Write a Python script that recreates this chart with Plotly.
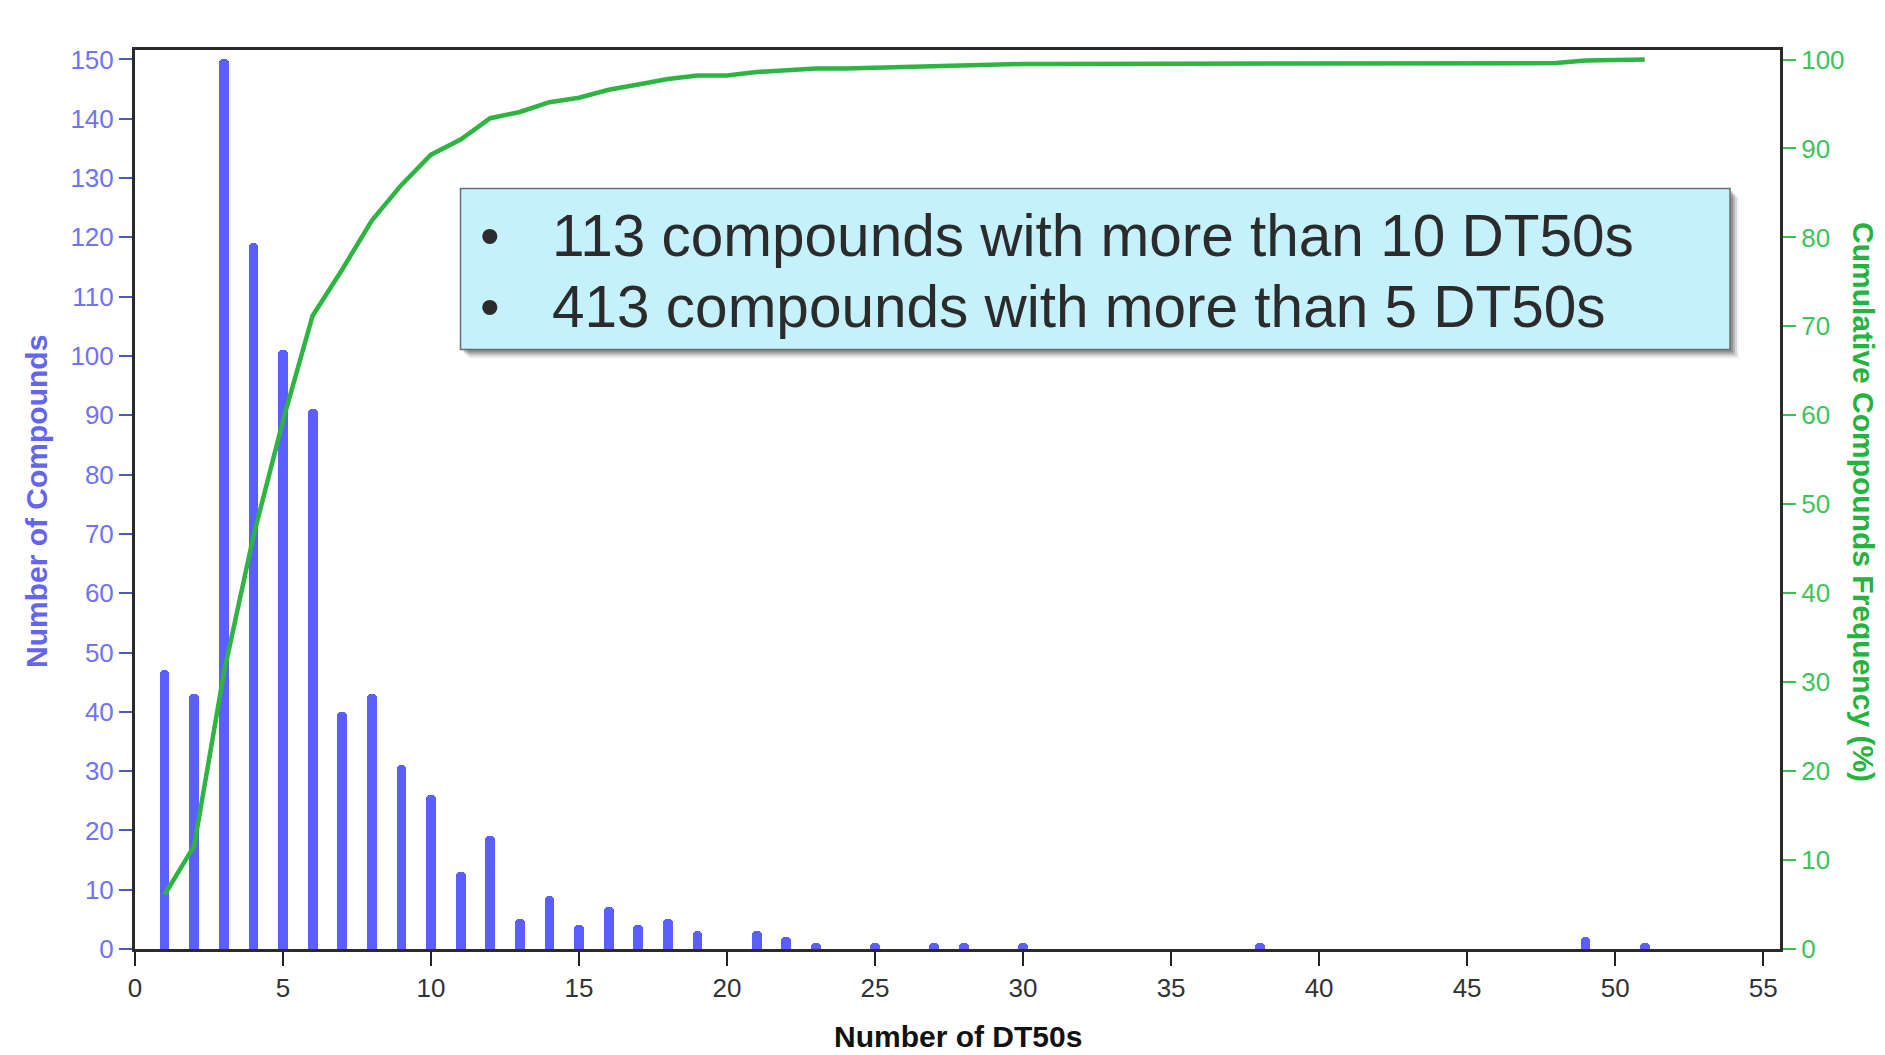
import plotly.graph_objects as go

# ---------------- data ----------------
bar_x = [1, 2, 3, 4, 5, 6, 7, 8, 9, 10, 11, 12, 13, 14, 15, 16, 17, 18, 19,
         21, 22, 23, 25, 27, 28, 30, 38, 49, 51]
bar_counts = [47, 43, 150, 119, 101, 91, 40, 43, 31, 26, 13, 19, 5, 9, 4, 7, 4, 5, 3,
              3, 2, 1, 1, 1, 1, 1, 1, 2, 1]

cum_x = [1, 2, 3, 4, 5, 6, 7, 8, 9, 10, 11, 12, 13, 14, 15, 16, 17, 18, 19, 20,
         21, 22, 23, 24, 25, 26, 27, 28, 29, 30, 31, 32, 33, 34, 35, 36, 37, 38, 39, 40,
         41, 42, 43, 44, 45, 46, 47, 48, 49, 50, 51]
cum_pct = [6.1, 11.6, 31.0, 46.4, 59.4, 71.2, 76.4, 81.9, 85.9, 89.3,
           91.0, 93.4, 94.1, 95.2, 95.7, 96.6, 97.2, 97.8, 98.2, 98.2,
           98.6, 98.8, 99.0, 99.0, 99.1, 99.1, 99.2, 99.4, 99.4, 99.5,
           99.5, 99.5, 99.5, 99.5, 99.5, 99.5, 99.5, 99.6, 99.6, 99.6,
           99.6, 99.6, 99.6, 99.6, 99.6, 99.6, 99.6, 99.6, 99.9, 99.9, 100.0]

x_ticks = [0, 5, 10, 15, 20, 25, 30, 35, 40, 45, 50, 55]
y_left_ticks = [0, 10, 20, 30, 40, 50, 60, 70, 80, 90, 100, 110, 120, 130, 140, 150]
y_right_ticks = [0, 10, 20, 30, 40, 50, 60, 70, 80, 90, 100]

box_lines = ["113 compounds with more than 10 DT50s",
             "413 compounds with more than 5 DT50s"]

# ---------------- layout geometry ----------------
W, H = 1885, 1055
ML, MR, MT, MB = 135, 105, 50, 106
PW = W - ML - MR
PH = H - MT - MB


def px(xp):
    return (xp - ML) / PW


def py(yp):
    return (H - MB - yp) / PH


BAR_COLOR = "#5b5fff"
LINE_COLOR = "#2db441"
FONT = "Liberation Sans, Arial, sans-serif"

fig = go.Figure()
fig.add_trace(go.Bar(x=bar_x, y=bar_counts, width=0.33,
                     marker=dict(color=BAR_COLOR, line=dict(width=0), cornerradius=4),
                     yaxis="y", showlegend=False))
fig.add_trace(go.Scatter(x=cum_x, y=cum_pct, mode="lines",
                         line=dict(color=LINE_COLOR, width=4.5),
                         yaxis="y2", showlegend=False))

fig.update_layout(
    width=W, height=H,
    margin=dict(l=ML, r=MR, t=MT, b=MB),
    paper_bgcolor="white", plot_bgcolor="white",
    font=dict(family=FONT),
    xaxis=dict(range=[0, 55.57], tickvals=x_ticks, ticks="outside", ticklen=14,
               tickwidth=2, tickcolor="#222222", showline=True, linecolor="#2a2a2a",
               linewidth=3, mirror=True, showgrid=False, zeroline=False,
               tickfont=dict(size=26, color="#333333", family=FONT)),
    yaxis=dict(range=[0, 151.6], tickvals=y_left_ticks, ticks="outside", ticklen=13,
               tickwidth=2, tickcolor="#4f5ab8", showline=True, linecolor="#2a2a2a",
               linewidth=3, showgrid=False, zeroline=False,
               tickfont=dict(size=26, color="#7272f2", family=FONT)),
    yaxis2=dict(range=[0, 101.07], tickvals=y_right_ticks, overlaying="y", side="right",
                ticks="outside", ticklen=13, tickwidth=2, tickcolor="#3cbf55",
                showline=True, linecolor="#2a2a2a", linewidth=3, showgrid=False,
                zeroline=False, tickfont=dict(size=26, color="#3cc35a", family=FONT)),
    bargap=0,
)

# axis titles as annotations
fig.add_annotation(text="<b>Number of DT50s</b>", xref="paper", yref="paper",
                   x=0.5, y=py(1036), xanchor="center", yanchor="middle",
                   showarrow=False, font=dict(size=30, color="#111111", family=FONT))
fig.add_annotation(text="<b>Number of Compounds</b>", xref="paper", yref="paper",
                   x=px(36), y=py(502), xanchor="center", yanchor="middle",
                   textangle=-90, showarrow=False,
                   font=dict(size=30, color="#6464f2", family=FONT))
fig.add_annotation(text="<b>Cumulative Compounds Frequency (%)</b>", xref="paper", yref="paper",
                   x=px(1864), y=py(502), xanchor="center", yanchor="middle",
                   textangle=90, showarrow=False,
                   font=dict(size=30, color="#25b33f", family=FONT))

# text box with shadow
bx0, bx1, by0, by1 = 460.5, 1730, 188.5, 349.5
for off, alpha in [(9, 0.06), (7, 0.1), (5, 0.16), (3, 0.2)]:
    fig.add_shape(type="rect", xref="paper", yref="paper",
                  x0=px(bx0 + off), x1=px(bx1 + off), y0=py(by0 + off), y1=py(by1 + off),
                  fillcolor=f"rgba(0,0,0,{alpha})", line=dict(width=0), layer="above")
fig.add_shape(type="rect", xref="paper", yref="paper",
              x0=px(bx0), x1=px(bx1), y0=py(by0), y1=py(by1),
              fillcolor="#c5f1fd", line=dict(color="#6b6b6b", width=1.5), layer="above")

line_centers = [236, 306]
for txt, yc in zip(box_lines, line_centers):
    fig.add_annotation(text="\u2022", xref="paper", yref="paper", x=px(490), y=py(yc),
                       xanchor="center", yanchor="middle", showarrow=False,
                       font=dict(size=56, color="#2b2b2b", family=FONT))
    fig.add_annotation(text=txt, xref="paper", yref="paper", x=px(550), y=py(yc),
                       xanchor="left", yanchor="middle", showarrow=False,
                       font=dict(size=58.5, color="#2b2b2b", family=FONT))

fig.write_html("out.html")
